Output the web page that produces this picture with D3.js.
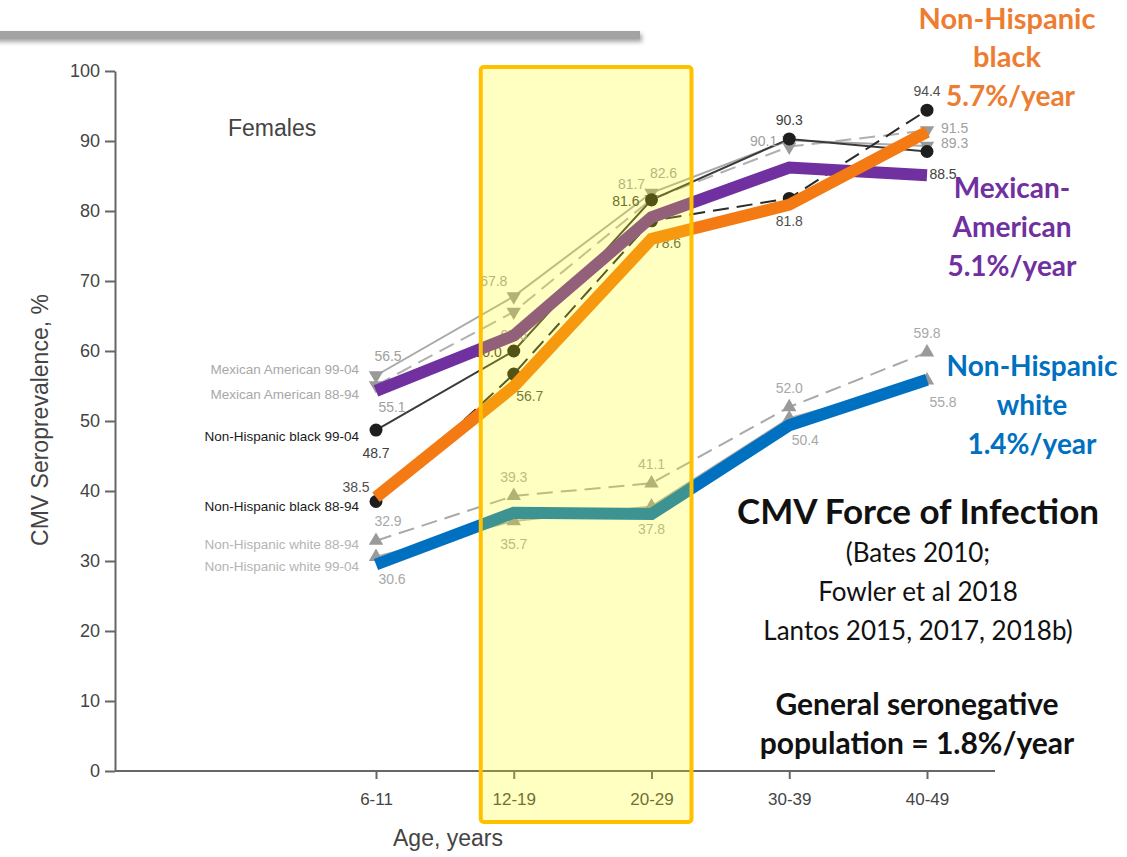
<!DOCTYPE html>
<head>
  <meta charset="utf-8">
  <script src="https://d3js.org/d3.v7.min.js"></script>
  <style>
  body,html {background:white; margin:0; padding:0; overflow:hidden;}
  svg {display:block;}
  .tick text {font-family:"Liberation Sans", Arial, sans-serif; fill:#444;}
  </style>
</head>
<body>
<svg id="chart" width="1127" height="857">
  <defs>
    <filter id="shadow" x="-5%" y="-100%" width="110%" height="400%">
      <feDropShadow dx="2" dy="3" stdDeviation="2" flood-color="#000" flood-opacity="0.35"/>
    </filter>
  </defs>
</svg>
<script>
  // age groups on the x axis
  const ages = ["6-11", "12-19", "20-29", "30-39", "40-49"];

  // original NHANES curves (females)
  const maNew  = [56.5, 67.8, 82.6, 90.1, 89.3];   // Mexican American 99-04
  const maOld  = [55.1, 65.6, 81.7, 89.2, 91.5];   // Mexican American 88-94
  const nhbNew = [48.7, 60.0, 81.6, 90.3, 88.5];   // Non-Hispanic black 99-04
  const nhbOld = [38.5, 56.7, 78.6, 81.8, 94.4];   // Non-Hispanic black 88-94
  const nhwOld = [32.9, 39.3, 41.1, 52.0, 59.8];   // Non-Hispanic white 88-94
  const nhwNew = [30.6, 35.7, 37.8, 50.4, 55.8];   // Non-Hispanic white 99-04

  // force of infection overlay lines
  const mexFoi   = [54.3, 62.2, 79.1, 86.2, 85.1];
  const blackFoi = [39.1, 54.9, 76.0, 80.9, 91.3];
  const whiteFoi = [29.5, 36.9, 36.7, 49.4, 55.9];

  const yTicks = [0, 10, 20, 30, 40, 50, 60, 70, 80, 90, 100];

  const svg = d3.select("#chart");

  const x = d3.scalePoint().domain(ages).range([376, 927]);
  const y = d3.scaleLinear().domain([0, 100]).range([771, 71]);

  // grey header bar
  svg.append("rect")
    .attr("x", -10).attr("y", 31).attr("width", 650).attr("height", 8)
    .attr("fill", "#a3a3a3")
    .attr("filter", "url(#shadow)");

  // axes
  let yAxis = svg.append("g")
    .attr("transform", "translate(115,0)")
    .call(d3.axisLeft(y).tickValues(yTicks).tickSize(10).tickSizeOuter(0).tickPadding(5));
  yAxis.selectAll(".tick text").style("font-size", "18px");
  yAxis.selectAll("line, .domain").attr("stroke", "#666").attr("stroke-width", 2);

  let xAxis = svg.append("g")
    .attr("transform", "translate(0,771)")
    .call(d3.axisBottom(x).tickSize(8).tickSizeOuter(0).tickPadding(14));
  xAxis.select(".domain").attr("d", "M115,0H995");
  xAxis.selectAll(".tick text").style("font-size", "17px");
  xAxis.selectAll("line, .domain").attr("stroke", "#666").attr("stroke-width", 2);

  svg.append("text")
    .attr("x", 448).attr("y", 846)
    .attr("text-anchor", "middle")
    .style("font-family", "Liberation Sans, Arial, sans-serif")
    .style("font-size", "23px").attr("fill", "#444")
    .text("Age, years");

  svg.append("text")
    .attr("transform", "translate(48,420) rotate(-90)")
    .attr("text-anchor", "middle")
    .style("font-family", "Liberation Sans, Arial, sans-serif")
    .style("font-size", "23px").attr("fill", "#444")
    .text("CMV Seroprevalence, %");

  svg.append("text")
    .attr("x", 228).attr("y", 136)
    .style("font-family", "Liberation Sans, Arial, sans-serif")
    .style("font-size", "23px").attr("fill", "#444")
    .text("Females");

  // label placement around each point
  const place = {
    a:  {dx: 0,   dy: -19, anchor: "middle"},
    b:  {dx: 0,   dy: 23,  anchor: "middle"},
    ar: {dx: 12,  dy: -20, anchor: "middle"},
    br: {dx: 16,  dy: 22,  anchor: "middle"},
    al: {dx: -20, dy: -15, anchor: "middle"},
    l:  {dx: -12, dy: 1,   anchor: "end"},
    r:  {dx: 14,  dy: -3,  anchor: "start"}
  };

  const greySeries = [
    {name: "Mexican American 99-04",   values: maNew,  dash: null,   line: "#a9a9a9", mark: "#9a9a9a", text: "#a0a0a0", shape: "down",
     labels: ["ar", "al", "ar", "l", "r"], legY: 369, legColor: "#a8a8a8"},
    {name: "Mexican American 88-94",   values: maOld,  dash: "16,8", line: "#b0b0b0", mark: "#9a9a9a", text: "#a0a0a0", shape: "down",
     labels: ["br", "b", "al", null, "r"], legY: 394, legColor: "#a8a8a8"},
    {name: "Non-Hispanic black 99-04", values: nhbNew, dash: null,   line: "#3a3a3a", mark: "#1e1e1e", text: "#404040", shape: "dot",
     labels: ["b", "l", "l", "a", "br"], legY: 436, legColor: "#1a1a1a"},
    {name: "Non-Hispanic black 88-94", values: nhbOld, dash: "16,8", line: "#2a2a2a", mark: "#1e1e1e", text: "#505050", shape: "dot",
     labels: ["al", "br", "br", "b", "a"], legY: 506, legColor: "#1a1a1a"},
    {name: "Non-Hispanic white 88-94", values: nhwOld, dash: "16,8", line: "#a9a9a9", mark: "#9a9a9a", text: "#a8a8a8", shape: "up",
     labels: ["ar", "a", "a", "a", "a"], legY: 544, legColor: "#b4b4b4"},
    {name: "Non-Hispanic white 99-04", values: nhwNew, dash: null,   line: "#b0b0b0", mark: "#9a9a9a", text: "#a8a8a8", shape: "up",
     labels: ["br", "b", "b", "br", "br"], legY: 566, legColor: "#b4b4b4"}
  ];

  const line = d3.line().x((d, i) => x(ages[i])).y(d => y(d));

  greySeries.forEach(s => {
    svg.append("path")
      .datum(s.values)
      .attr("d", line)
      .attr("fill", "none")
      .attr("stroke", s.line)
      .attr("stroke-width", 2)
      .attr("stroke-dasharray", s.dash);
  });

  greySeries.forEach(s => {
    let g = svg.append("g");
    s.values.forEach((v, i) => {
      const px = x(ages[i]), py = y(v);
      if (s.shape === "dot") {
        g.append("circle").attr("cx", px).attr("cy", py).attr("r", 6.5).attr("fill", s.mark);
      } else {
        g.append("path")
          .attr("d", d3.symbol(d3.symbolTriangle, 90)())
          .attr("transform", `translate(${px},${py}) rotate(${s.shape === "down" ? 180 : 0})`)
          .attr("fill", s.mark);
      }
      const code = s.labels[i];
      if (code) {
        const p = place[code];
        g.append("text")
          .attr("x", px + p.dx).attr("y", py + p.dy)
          .attr("text-anchor", p.anchor)
          .attr("dominant-baseline", "central")
          .style("font-family", "Liberation Sans, Arial, sans-serif")
          .style("font-size", "14px")
          .attr("fill", s.text)
          .text(v.toFixed(1));
      }
    });
    svg.append("text")
      .attr("x", 359).attr("y", s.legY)
      .attr("text-anchor", "end")
      .attr("dominant-baseline", "central")
      .style("font-family", "Liberation Sans, Arial, sans-serif")
      .style("font-size", "13.5px")
      .attr("fill", s.legColor)
      .text(s.name);
  });

  // force of infection overlay
  const foi = [
    {values: mexFoi,   color: "#7030a0"},
    {values: whiteFoi, color: "#0070c0"},
    {values: blackFoi, color: "#f47a14"}
  ];
  foi.forEach(s => {
    svg.append("path")
      .datum(s.values)
      .attr("d", line)
      .attr("fill", "none")
      .attr("stroke", s.color)
      .attr("stroke-width", 12)
      .attr("stroke-linejoin", "miter");
  });

  // highlight box over 12-19 and 20-29
  const bx0 = x("12-19") - 33, bx1 = x("20-29") + 40;
  svg.append("rect")
    .attr("x", bx0).attr("y", 67)
    .attr("width", bx1 - bx0).attr("height", 755)
    .attr("rx", 3)
    .attr("fill", "#ffff00").attr("fill-opacity", 0.24)
    .attr("stroke", "#ffc000").attr("stroke-width", 4);

  // right-hand annotations
  function block(lines, cx, y0, step, size, color, weight) {
    const t = svg.append("text")
      .attr("text-anchor", "middle")
      .style("font-family", "Lato, 'Open Sans', sans-serif")
      .style("font-size", size + "px")
      .style("font-weight", weight)
      .attr("fill", color);
    lines.forEach((l, i) => {
      t.append("tspan").attr("x", cx).attr("y", y0 + i * step).text(l);
    });
  }

  block(["Non-Hispanic", "black"], 1007, 29, 38, 29, "#ed7d31", "bold");
  svg.append("text")
    .attr("x", 946).attr("y", 106)
    .style("font-family", "Lato, 'Open Sans', sans-serif")
    .style("font-size", "28px").style("font-weight", "bold")
    .attr("fill", "#ed7d31")
    .text("5.7%/year");

  block(["Mexican-", "American", "5.1%/year"], 1012, 198, 39, 28, "#7030a0", "bold");
  block(["Non-Hispanic", "white", "1.4%/year"], 1032, 376, 39, 28, "#0070c0", "bold");

  block(["CMV Force of Infection"], 918, 524, 0, 35, "#111", "bold");
  block(["(Bates 2010;", "Fowler et al 2018", "Lantos 2015, 2017, 2018b)"], 918, 562, 39, 26, "#111", "normal");
  block(["General seronegative", "population = 1.8%/year"], 917, 715, 39, 30, "#111", "bold");
</script>
</body>
